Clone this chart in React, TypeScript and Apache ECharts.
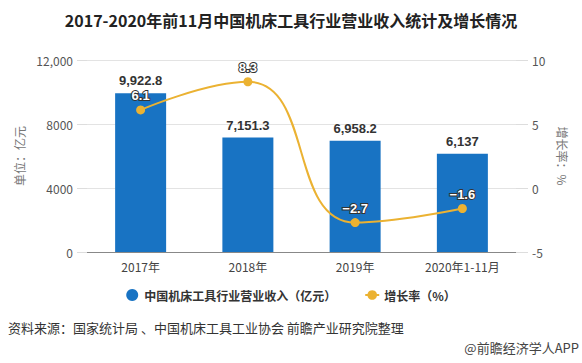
import React, { useEffect, useRef } from "react";
import * as echarts from "echarts";

const categories = ["2017年", "2018年", "2019年", "2020年1-11月"];
const revenue = [9922.8, 7151.3, 6958.2, 6137];
const revenueLabels = ["9,922.8", "7,151.3", "6,958.2", "6,137"];
const growth = [6.1, 8.3, -2.7, -1.6];
const leftTicks: Record<number, string> = { 0: "0", 4000: "4000", 8000: "8000", 12000: "12,000" };
const rightTicks: Record<string, string> = { "-5": "-5", "0": "0", "5": "5", "10": "10" };

const FONT = "'Microsoft YaHei', 'Noto Sans CJK SC', sans-serif";
const NUMFONT = "Arial, 'Liberation Sans', sans-serif";

export default function App() {
  const ref = useRef<HTMLDivElement>(null);
  useEffect(() => {
    if (!ref.current) return;
    const chart = echarts.init(ref.current, undefined, { renderer: "svg" });
    chart.setOption({
      animation: false,
      backgroundColor: "#fff",
      textStyle: { fontFamily: FONT },
      title: {
        text: "2017-2020年前11月中国机床工具行业营业收入统计及增长情况",
        left: "center",
        top: 7,
        textStyle: { fontSize: 16, fontWeight: "bold", color: "#222", fontFamily: FONT },
      },
      grid: { left: 87, right: 66, top: 60, bottom: 111 },
      legend: {
        bottom: 57,
        left: "center",
        itemGap: 28,
        itemWidth: 14,
        itemHeight: 12,
        textStyle: { fontSize: 12, fontWeight: "bold", color: "#333", fontFamily: FONT },
        data: [
          { name: "中国机床工具行业营业收入（亿元）", icon: "circle" },
          { name: "增长率（%）" },
        ],
      },
      xAxis: {
        type: "category",
        data: categories,
        axisLine: { lineStyle: { color: "#888" } },
        axisTick: { alignWithLabel: true, length: 4, lineStyle: { color: "#888" } },
        axisLabel: { color: "#444", fontSize: 12, margin: 8 },
      },
      yAxis: [
        {
          type: "value",
          min: 0,
          max: 12000,
          interval: 4000,
          name: "单位：亿元",
          nameLocation: "middle",
          nameGap: 55,
          nameRotate: 90,
          nameTextStyle: { color: "#777", fontSize: 12 },
          axisLine: { show: false },
          axisTick: { show: true, length: 10, lineStyle: { color: "#ddd" } },
          splitLine: { lineStyle: { color: "#e3e3e3" } },
          axisLabel: {
            color: "#555",
            fontSize: 12,
            margin: 14,
            formatter: (v: number) => leftTicks[v] ?? String(v),
          },
        },
        {
          type: "value",
          min: -5,
          max: 10,
          interval: 5,
          name: "增长率：%",
          nameLocation: "middle",
          nameGap: 38,
          nameRotate: -90,
          nameTextStyle: { color: "#777", fontSize: 12 },
          axisLine: { show: false },
          axisTick: { show: true, length: 12, lineStyle: { color: "#ddd" } },
          splitLine: { show: false },
          axisLabel: {
            color: "#555",
            fontSize: 12,
            margin: 16,
            formatter: (v: number) => rightTicks[String(v)] ?? String(v),
          },
        },
      ],
      series: [
        {
          name: "中国机床工具行业营业收入（亿元）",
          type: "bar",
          data: revenue,
          barWidth: 51,
          itemStyle: { color: "#1873c3" },
          label: {
            show: true,
            position: "top",
            distance: 6,
            color: "#333",
            fontSize: 13,
            fontWeight: "bold",
            fontFamily: NUMFONT,
            formatter: (p: any) => revenueLabels[p.dataIndex],
          },
        },
        {
          name: "增长率（%）",
          type: "line",
          yAxisIndex: 1,
          data: growth,
          smooth: 0.5,
          symbol: "circle",
          symbolSize: 9,
          lineStyle: { color: "#ebb232", width: 2 },
          itemStyle: { color: "#ebb232" },
          label: {
            show: true,
            position: "top",
            distance: 3,
            color: "#fff",
            fontSize: 13,
            fontWeight: "bold",
            fontFamily: NUMFONT,
            textBorderColor: "#333",
            textBorderWidth: 2,
            formatter: (p: any) => (p.value < 0 ? "−" + Math.abs(p.value) : String(p.value)),
          },
        },
      ],
      graphic: [
        {
          type: "text",
          left: 8,
          top: 321,
          style: {
            text: "资料来源：国家统计局 、中国机床工具工业协会 前瞻产业研究院整理",
            fontSize: 13,
            fill: "#333",
            fontFamily: FONT,
          },
        },
        {
          type: "text",
          right: 3,
          top: 341,
          style: {
            text: "@前瞻经济学人APP",
            fontSize: 13,
            fill: "#444",
            fontFamily: FONT,
          },
        },
      ],
    });
    return () => chart.dispose();
  }, []);
  return <div ref={ref} style={{ width: 582, height: 363, position: "absolute", left: 0, top: 0 }} />;
}
